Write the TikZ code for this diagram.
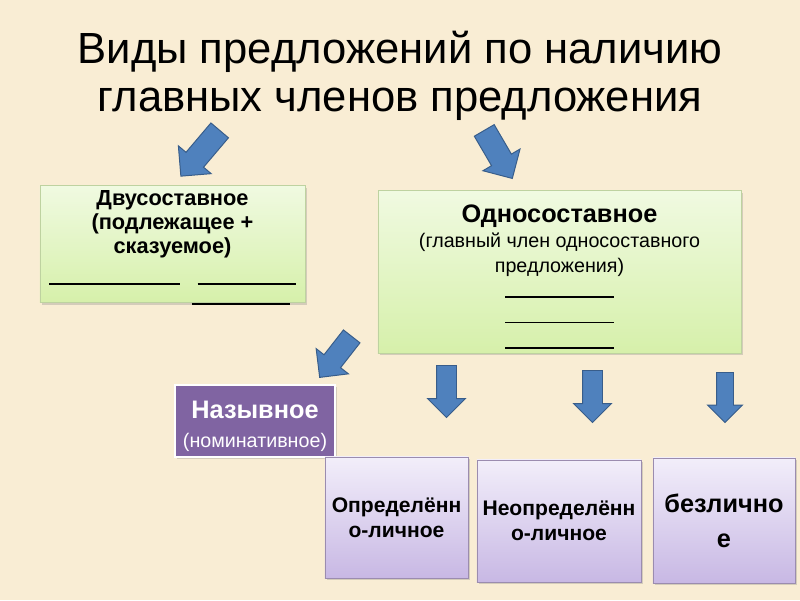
\documentclass[tikz,border=0pt]{standalone}
\usepackage{fontspec}
\setmainfont{Liberation Sans}
\usetikzlibrary{shapes.arrows,shadows}

\definecolor{fon}{RGB}{249,237,212}
\definecolor{zeltop}{RGB}{240,250,225}
\definecolor{zelbot}{RGB}{214,240,170}
\definecolor{zelkr}{RGB}{190,210,160}
\definecolor{fiotop}{RGB}{242,238,250}
\definecolor{fiobot}{RGB}{200,184,228}
\definecolor{fiokr}{RGB}{155,140,175}
\definecolor{fiolet}{RGB}{128,100,162}
\definecolor{strelka}{RGB}{79,129,189}
\definecolor{strelkr}{RGB}{56,93,138}

\begin{document}
\begin{tikzpicture}[x=0.025cm, y=-0.025cm,
		ten/.style={drop shadow={shadow xshift=1.5pt, shadow yshift=-1.5pt, opacity=.3}},
		zelen/.style={draw=zelkr, shading=axis, top color=zeltop, bottom color=zelbot, align=center, ten},
		fiol/.style={draw=fiokr, shading=axis, top color=fiotop, bottom color=fiobot, align=center, ten,
			font=\bfseries\fontsize{15}{18}\selectfont},
		strel/.style={single arrow, draw=strelkr, fill=strelka, line width=0.7pt, inner xsep=0pt,
			single arrow head extend=0.25cm, anchor=tail}]

	% Фон
	\fill[fon] (0,0) rectangle (800,600);
	\useasboundingbox (0,0) rectangle (800,600);

	% Заголовок
	\node[align=center, font=\fontsize{31}{34}\selectfont] (zag) at (400,76)
		{Виды предложений по наличию\\главных членов предложения};

	% Двусоставное
	\node[zelen, minimum width=6.625cm, minimum height=2.9cm, text depth=9pt,
		font=\bfseries\fontsize{15.5}{17.3}\selectfont] (dvu) at (172.5,244)
		{Двусоставное\\(подлежащее +\\сказуемое)\\[5pt]\rule{3.25cm}{1.8pt}\hspace{0.45cm}\rule{2.45cm}{1.8pt}};
	\node[inner sep=0pt] (dvulinia) at (241,304) {\rule{2.45cm}{1.8pt}};

	% Односоставное
	\node[zelen, minimum width=9.075cm, minimum height=3.95cm, font=\fontsize{14}{18}\selectfont] (odno) at (559.5,272)
		{\rule{0pt}{19pt}{\bfseries\fontsize{18}{18}\selectfont Односоставное}\\(главный член односоставного\\предложения)\\
		\rule{2.7cm}{1.2pt}\\\rule{2.7cm}{1.2pt}\\\rule{2.7cm}{1.2pt}};

	% Назывное
	\node[draw=white, line width=1.5pt, fill=fiolet, text=white, align=center, minimum width=4cm, minimum height=1.8cm,
		font=\fontsize{14}{20}\selectfont, ten] (nazyv) at (255,421)
		{\rule{0pt}{20pt}{\bfseries\fontsize{18}{20}\selectfont Назывное}\\(номинативное)};

	% Нижний ряд
	\node[fiol, minimum width=3.575cm, minimum height=3.025cm] (opred) at (396.5,517.5) {Определённ\\о-личное};
	\node[fiol, minimum width=4.1cm, minimum height=3.05cm] (neopred) at (559,521) {Неопределённ\\о-личное};
	\node[fiol, minimum width=3.55cm, minimum height=3.125cm, font=\bfseries\fontsize{18}{25}\selectfont] (bezl) at (724,520.5)
		{безлично\\е};

	% Стрелки
	\node[strel, inner ysep=0.275cm, minimum height=1.5cm, rotate=-130.3] (s1) at (220,130) {};
	\node[strel, inner ysep=0.275cm, minimum height=1.39cm, rotate=-59.7] (s2) at (484,130) {};
	\node[strel, inner ysep=0.25cm, minimum height=1.3cm, rotate=-128] (s3) at (352,336) {};
	\node[strel, inner ysep=0.2375cm, single arrow head extend=0.225cm, minimum height=1.3cm, rotate=-90] (s4) at (446.5,365) {};
	\node[strel, inner ysep=0.2375cm, single arrow head extend=0.225cm, minimum height=1.3cm, rotate=-90] (s5) at (592.5,370) {};
	\node[strel, inner ysep=0.2cm, single arrow head extend=0.225cm, minimum height=1.25cm, rotate=-90] (s6) at (725,372) {};
\end{tikzpicture}
\end{document}
